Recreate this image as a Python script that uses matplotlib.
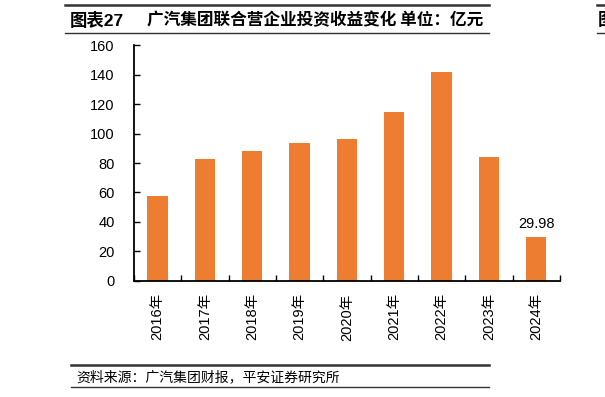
import matplotlib
matplotlib.use("Agg")
import matplotlib.pyplot as plt
from matplotlib.lines import Line2D

plt.rcParams['font.family'] = ['Liberation Sans', 'Noto Sans CJK SC', 'DejaVu Sans']

years = ['2016年', '2017年', '2018年', '2019年', '2020年', '2021年', '2022年', '2023年', '2024年']
income = [57.6, 83.0, 88.0, 93.8, 96.4, 114.6, 142.0, 84.0, 29.98]
label_value = '29.98'
yticks = [0, 20, 40, 60, 80, 100, 120, 140, 160]

fig = plt.figure(figsize=(6.05, 3.97), dpi=100)
ax = fig.add_axes([0.2215, 0.2929, 0.704, 0.593])

x = range(len(years))
ax.bar(x, income, width=0.43, color='#ED7D31')
ax.text(8, income[-1] + 4, label_value, ha='center', va='bottom', fontsize=10.5)

ax.set_xlim(-0.5, len(years) - 0.5)
ax.set_ylim(0, 160)
ax.set_yticks(yticks)
ax.set_yticklabels([str(v) for v in yticks], fontsize=10.5)
ax.set_xticks([i + 0.5 for i in range(-1, len(years))])
ax.set_xticklabels([])
ax.set_xticks(list(x), minor=True)
ax.set_xticklabels(years, minor=True, rotation=90, fontsize=10.5)
ax.tick_params(axis='x', which='minor', length=0, pad=9)
ax.tick_params(axis='x', which='major', direction='in', length=4, width=1)
ax.tick_params(axis='y', direction='in', length=4, width=1, pad=14)
for s in ['top', 'right']:
    ax.spines[s].set_visible(False)
for s in ['left', 'bottom']:
    ax.spines[s].set_linewidth(1.3)

# title block
fig.add_artist(Line2D([65/605, 489/605], [1-5/397, 1-5/397], color='#333333', lw=1.8))
fig.add_artist(Line2D([65/605, 489/605], [1-33/397, 1-33/397], color='#333333', lw=1))
fig.text(70/605, 1-20/397, '图表27', fontsize=12.5, fontweight='bold', va='center',
         family=['Liberation Sans', 'Noto Sans CJK SC'])
fig.text(147/605, 1-20/397, '广汽集团联合营企业投资收益变化 单位：亿元', fontsize=12,
         fontweight='bold', va='center', family=['Noto Sans CJK SC'])
fig.add_artist(Line2D([597/605, 1], [1-5/397, 1-5/397], color='#333333', lw=1.8))
fig.add_artist(Line2D([597/605, 1], [1-33/397, 1-33/397], color='#333333', lw=1))
fig.text(598/605, 1-20/397, '图', fontsize=12.5, fontweight='bold', va='center',
         family=['Noto Sans CJK SC'])

# source block
fig.add_artist(Line2D([71/605, 489/605], [1-365/397, 1-365/397], color='#333333', lw=1.8))
fig.add_artist(Line2D([71/605, 489/605], [1-387/397, 1-387/397], color='#333333', lw=1))
fig.text(76/605, 1-377/397, '资料来源：广汽集团财报，平安证券研究所', fontsize=10,
         style='italic', va='center', family=['Noto Sans CJK SC'])

fig.savefig('out.png', dpi=100)
